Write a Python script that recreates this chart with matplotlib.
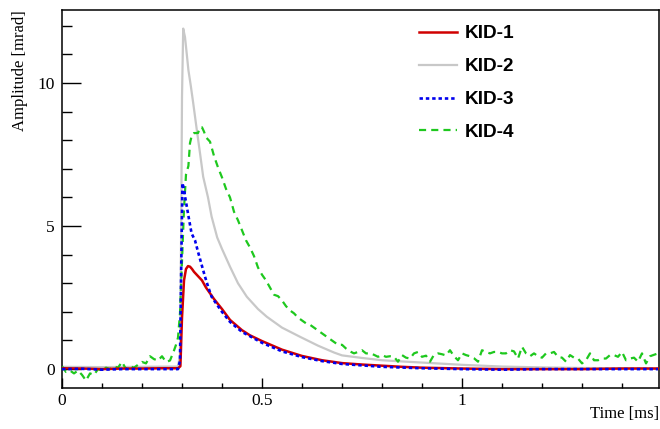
import matplotlib
matplotlib.use('Agg')
import matplotlib.pyplot as plt
import matplotlib.ticker as ticker

# KID-1 (red, solid)
t_kid1 = [0.0, 0.05, 0.1, 0.15, 0.2, 0.25, 0.29, 0.296, 0.300, 0.305, 0.31, 0.315, 0.32,
          0.325, 0.33, 0.34, 0.35, 0.36, 0.37, 0.38, 0.40, 0.42, 0.45, 0.47, 0.50, 0.55,
          0.60, 0.65, 0.70, 0.75, 0.80, 0.85, 0.90, 1.0, 1.1, 1.2, 1.3, 1.4, 1.49]
a_kid1 = [0.03, 0.02, 0.0, 0.02, 0.02, 0.03, 0.03, 0.1, 1.8, 3.1, 3.5, 3.6, 3.58,
          3.5, 3.4, 3.25, 3.1, 2.85, 2.65, 2.45, 2.1, 1.72, 1.36, 1.18, 0.98, 0.68,
          0.46, 0.31, 0.21, 0.16, 0.12, 0.08, 0.05, 0.02, 0.0, 0.0, 0.0, 0.02, 0.02]

# KID-2 (grey, solid)
t_kid2 = [0.0, 0.1, 0.2, 0.29, 0.295, 0.298, 0.300, 0.303, 0.3075, 0.312, 0.316, 0.322,
          0.328, 0.337, 0.345, 0.353, 0.365, 0.374, 0.388, 0.40, 0.42, 0.44, 0.462, 0.49,
          0.512, 0.55, 0.595, 0.64, 0.68, 0.70, 0.75, 0.80, 0.86, 0.95, 1.0, 1.1, 1.2,
          1.3, 1.4, 1.49]
a_kid2 = [0.08, 0.07, 0.08, 0.09, 0.5, 5.0, 9.5, 11.9, 11.6, 11.0, 10.45, 9.9,
          9.3, 8.36, 7.55, 6.72, 6.0, 5.33, 4.6, 4.2, 3.58, 3.0, 2.53, 2.1,
          1.83, 1.45, 1.13, 0.82, 0.58, 0.48, 0.39, 0.31, 0.26, 0.19, 0.15, 0.09, 0.06,
          0.04, 0.03, 0.02]

# KID-3 (blue, dotted)
t_kid3 = [0.0, 0.05, 0.1, 0.15, 0.2, 0.25, 0.29, 0.295, 0.298, 0.301, 0.305, 0.308, 0.312,
          0.318, 0.324, 0.3325, 0.34, 0.35, 0.3575, 0.366, 0.374, 0.385, 0.40, 0.42, 0.45,
          0.50, 0.55, 0.60, 0.65, 0.70, 0.80, 0.90, 1.0, 1.1, 1.2, 1.3, 1.4, 1.49]
a_kid3 = [0.0, 0.01, -0.02, 0.0, 0.0, 0.0, 0.0, 0.3, 3.5, 6.5, 6.3, 6.0, 5.68,
          5.2, 4.74, 4.5, 4.1, 3.6, 3.23, 2.85, 2.53, 2.3, 2.0, 1.65, 1.3,
          0.92, 0.62, 0.42, 0.28, 0.18, 0.08, 0.03, 0.0, -0.02, 0.0, 0.0, 0.0, 0.0]

# KID-4 (green, dashed)
t_kid4 = [0.00, 0.01, 0.02, 0.03, 0.04, 0.05, 0.06, 0.07, 0.08, 0.09, 0.10, 0.11, 0.12,
          0.13, 0.14, 0.15, 0.16, 0.17, 0.18, 0.19, 0.20, 0.21, 0.22, 0.23, 0.24, 0.25,
          0.26, 0.27, 0.28, 0.285, 0.29, 0.295, 0.300, 0.305, 0.31, 0.316, 0.32, 0.325,
          0.33, 0.34, 0.345, 0.35, 0.355, 0.36, 0.37, 0.38, 0.39, 0.40, 0.41, 0.42, 0.43,
          0.44, 0.45, 0.46, 0.47, 0.48, 0.49, 0.50, 0.51, 0.52, 0.53, 0.54, 0.55, 0.56,
          0.57, 0.58, 0.59, 0.60, 0.61, 0.62, 0.63, 0.64, 0.65, 0.66, 0.67, 0.68, 0.69,
          0.70, 0.71, 0.72, 0.73, 0.74, 0.75, 0.76, 0.77, 0.78, 0.79, 0.80, 0.81, 0.82,
          0.83, 0.84, 0.85, 0.86, 0.87, 0.88, 0.89, 0.90, 0.91, 0.92, 0.93, 0.94, 0.95,
          0.96, 0.97, 0.98, 0.99, 1.00, 1.01, 1.02, 1.03, 1.04, 1.05, 1.06, 1.07, 1.08,
          1.09, 1.10, 1.11, 1.12, 1.13, 1.14, 1.15, 1.16, 1.17, 1.18, 1.19, 1.20, 1.21,
          1.22, 1.23, 1.24, 1.25, 1.26, 1.27, 1.28, 1.29, 1.30, 1.31, 1.32, 1.33, 1.34,
          1.35, 1.36, 1.37, 1.38, 1.39, 1.40, 1.41, 1.42, 1.43, 1.44, 1.45, 1.46, 1.47,
          1.48, 1.49]
a_kid4 = [0.1, -0.1, -0.05, -0.15, -0.05, -0.2, -0.4, -0.15, -0.2, 0.0, -0.05, 0.05, 0.0,
          0.1, 0.05, 0.25, 0.0, 0.1, 0.05, 0.15, 0.25, 0.2, 0.45, 0.35, 0.3, 0.45,
          0.25, 0.3, 0.65, 0.85, 1.1, 1.95, 3.8, 5.6, 6.8, 7.1, 7.9, 8.2,
          8.25, 8.25, 8.45, 8.45, 8.3, 8.1, 7.95, 7.45, 7.05, 6.7, 6.3, 6.0, 5.5,
          5.2, 4.85, 4.5, 4.25, 3.95, 3.55, 3.3, 3.1, 2.85, 2.6, 2.55, 2.4, 2.2,
          2.05, 1.95, 1.8, 1.7, 1.6, 1.55, 1.45, 1.35, 1.25, 1.15, 1.05, 0.95, 0.85,
          0.85, 0.72, 0.62, 0.55, 0.6, 0.66, 0.55, 0.55, 0.5, 0.43, 0.49, 0.43, 0.45,
          0.43, 0.26, 0.49, 0.4, 0.37, 0.55, 0.6, 0.43, 0.47, 0.26, 0.5, 0.55, 0.52,
          0.48, 0.66, 0.45, 0.31, 0.55, 0.49, 0.45, 0.38, 0.26, 0.66, 0.6, 0.55, 0.6,
          0.6, 0.55, 0.55, 0.66, 0.62, 0.37, 0.78, 0.55, 0.45, 0.55, 0.45, 0.4, 0.55,
          0.55, 0.6, 0.43, 0.4, 0.26, 0.49, 0.4, 0.37, 0.2, 0.31, 0.55, 0.31, 0.31,
          0.37, 0.37, 0.49, 0.49, 0.43, 0.6, 0.31, 0.37, 0.4, 0.26, 0.55, 0.2, 0.45,
          0.5, 0.55]

x_ticks = [0, 0.5, 1]
x_tick_labels = ['0', '0.5', '1']
y_ticks = [0, 5, 10]
y_tick_labels = ['0', '5', '10']

serif = ['Liberation Serif', 'DejaVu Serif']
sans = ['Liberation Sans', 'DejaVu Sans']

fig = plt.figure(figsize=(6.6, 4.29), dpi=100)
ax = fig.add_axes([62 / 660, 41 / 429, 597 / 660, 378 / 429])

ax.plot(t_kid1, a_kid1, color='#d00000', linewidth=1.8, label='KID-1', zorder=4)
ax.plot(t_kid2, a_kid2, color='#c8c8c8', linewidth=1.6, label='KID-2', zorder=2)
ax.plot(t_kid3, a_kid3, color='#0000ee', linewidth=1.9, linestyle=(0, (1.3, 1.1)),
        label='KID-3', zorder=5)
ax.plot(t_kid4, a_kid4, color='#1ec81e', linewidth=1.6, linestyle=(0, (3.2, 2.3)),
        label='KID-4', zorder=3)

ax.set_xlim(0, 1.4925)
ax.set_ylim(-0.66, 12.55)

ax.set_xticks(x_ticks)
ax.set_xticklabels(x_tick_labels, family=serif, fontsize=12.5)
ax.set_yticks(y_ticks)
ax.set_yticklabels(y_tick_labels, family=serif, fontsize=12.5)
ax.xaxis.set_minor_locator(ticker.MultipleLocator(0.1))
ax.yaxis.set_minor_locator(ticker.MultipleLocator(1))

ax.xaxis.set_tick_params(which='major', direction='in', length=7.2, width=1.0, pad=3.5)
ax.xaxis.set_tick_params(which='minor', direction='in', length=3.6, width=1.0)
ax.yaxis.set_tick_params(which='major', direction='in', length=13.7, width=1.0, pad=5)
ax.yaxis.set_tick_params(which='minor', direction='in', length=7.2, width=1.0)
for spine in ax.spines.values():
    spine.set_linewidth(1.1)

ax.set_xlabel('Time [ms]', family=serif, fontsize=12)
ax.xaxis.set_label_coords(1.0, -0.048)
ax.xaxis.label.set_ha('right')
ax.set_ylabel('Amplitude [mrad]', family=serif, fontsize=12)
ax.yaxis.set_label_coords(-0.057, 1.0)
ax.yaxis.label.set_ha('right')

leg = ax.legend(loc='upper left', bbox_to_anchor=(419 / 660, 1 - 25 / 429),
                bbox_transform=fig.transFigure, frameon=False, borderpad=0,
                borderaxespad=0, handlelength=2.0, handletextpad=0.42,
                labelspacing=0.82,
                prop={'family': sans, 'weight': 'bold', 'size': 13.7})

fig.savefig('out.png', dpi=100)
